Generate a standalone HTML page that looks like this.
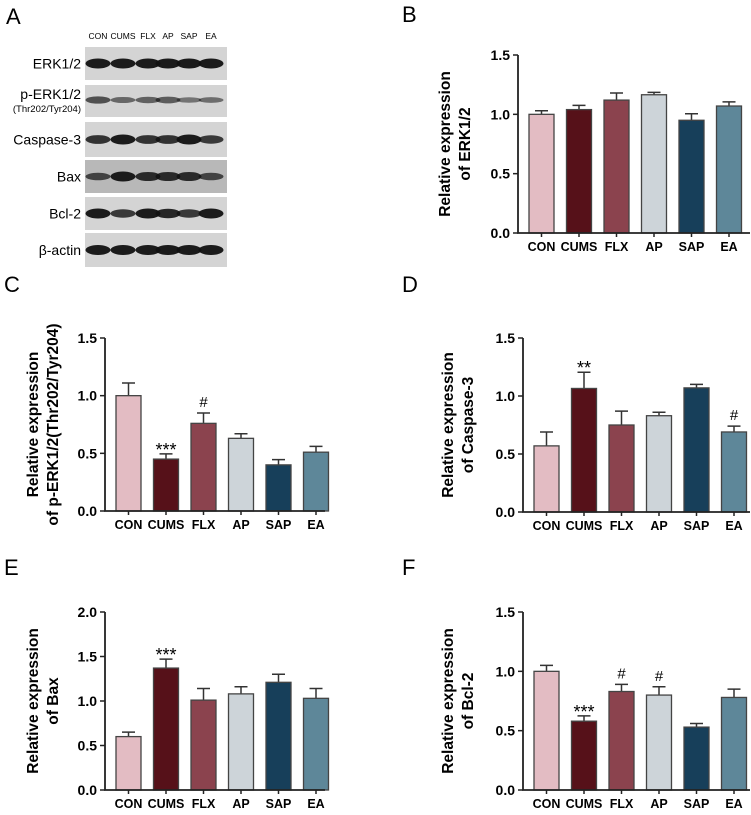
<!DOCTYPE html>
<html><head><meta charset="utf-8"><style>
body{margin:0;background:#fff;}
svg{display:block;font-family:"Liberation Sans",Arial,sans-serif;}
</style></head><body>
<svg id="fig" width="751" height="815" viewBox="0 0 751 815">
<g id="blot"></g>
<g id="charts"></g>
</svg>
<script>
const categories=["CON","CUMS","FLX","AP","SAP","EA"];
const colors=["#e3bcc3","#561119","#8b434e","#cdd4d9","#173f5a","#5e8799"];
const erkMean=[1.00,1.04,1.12,1.165,0.95,1.07];
const erkErr=[0.03,0.035,0.06,0.02,0.055,0.035];
const perkMean=[1.00,0.45,0.76,0.63,0.40,0.51];
const perkErr=[0.11,0.045,0.09,0.04,0.045,0.05];
const casMean=[0.57,1.065,0.75,0.83,1.07,0.69];
const casErr=[0.12,0.14,0.12,0.03,0.03,0.05];
const baxMean=[0.60,1.37,1.01,1.08,1.21,1.03];
const baxErr=[0.05,0.10,0.13,0.08,0.09,0.11];
const bclMean=[1.00,0.58,0.83,0.80,0.53,0.78];
const bclErr=[0.05,0.045,0.06,0.07,0.03,0.07];
const erkMarks=["","","","","",""];
const perkMarks=["","***","#","","",""];
const casMarks=["","**","","","","#"];
const baxMarks=["","***","","","",""];
const bclMarks=["","***","#","#","",""];
const ticks15=[0,0.5,1.0,1.5];
const ticks20=[0,0.5,1.0,1.5,2.0];
const bandStrength=[[1,1,1,1,1,1],[0.55,0.35,0.4,0.45,0.25,0.3],[0.8,1,0.8,0.8,1,0.75],[0.6,1,0.85,0.85,0.85,0.6],[1,0.75,1,0.9,0.75,1],[1,1,1,1,1,1]];
const blotLabels=["ERK1/2","p-ERK1/2","Caspase-3","Bax","Bcl-2","β-actin"];

const NS="http://www.w3.org/2000/svg";
function mk(tag,attrs,parent,text){const e=document.createElementNS(NS,tag);for(const k in attrs)e.setAttribute(k,attrs[k]);if(text!==undefined)e.textContent=text;parent.appendChild(e);return e;}

const blot=document.getElementById('blot');
const la=mk('text',{x:6,y:24,'font-size':22},blot,'A');


const laneX=[98,123,148,168,189,211];
categories.forEach((c,i)=>{const t=mk('text',{x:laneX[i],y:39,'font-size':8.5,'text-anchor':'middle'},blot,c);

});
const rowsY=[[47,80],[85,117],[122,157],[160,193],[197,230],[233,267]];
rowsY.forEach((r,ri)=>{
 const bg=mk('rect',{x:85,y:r[0],width:142,height:r[1]-r[0],fill:ri==3?'#b8b8b8':'#d4d4d4'},blot);
 
 
 const cy=ri==1?(r[0]+r[1])/2-1:(r[0]+r[1])/2;
 laneX.forEach((lx,i)=>{const s=bandStrength[ri][i];
  const b=mk('ellipse',{cx:lx,cy:cy,rx:12.5,ry:2+3*s,fill:'#111','fill-opacity':0.35+0.6*s},blot);
  
  });
 const lab=mk('text',{x:81,y:ri==1?cy-1:cy+5,'font-size':14,'text-anchor':'end'},blot,blotLabels[ri]);
 
 
 if(ri==1){const s=mk('text',{x:81,y:cy+12,'font-size':9.5,'text-anchor':'end'},blot,'(Thr202/Tyr204)');
  
  }
});

function chart(id,letter,lx,ly,ax,y0,ytop,ymax,xend,ticks,means,errs,marks,titleLines,titleX){
 const g=mk('g',{},document.getElementById('charts'));
 
 
 const L=mk('text',{x:lx,y:ly,'font-size':22},g,letter);
 
 
 const ys=v=>y0-(v/ymax)*(y0-ytop);
 const xs=i=>ax+11+i*37.5;
 categories.forEach((c,i)=>{
  const x=xs(i),top=ys(means[i]),e=ys(means[i]+errs[i]);
  const eb=mk('path',{d:`M${x+12.5},${top}V${e}M${x+6},${e}H${x+19}`,stroke:'#333','stroke-width':1.5,fill:'none'},g);
  
  
  const r=mk('rect',{x:x,y:top,width:25,height:y0-top,fill:colors[i],stroke:'#444','stroke-width':1.3},g);
  
  
  if(marks[i]){const m=mk('text',{x:x+12.5,y:e-(marks[i]=='#'?6:4)+(marks[i][0]=='*'?6:0),'font-size':marks[i]=='#'?15:18,'text-anchor':'middle'},g,marks[i]);
   
   }
  const tk=mk('line',{x1:x+12.5,x2:x+12.5,y1:y0,y2:y0+4,stroke:'#222','stroke-width':1.5},g);
  
  
  const tl=mk('text',{x:x+12.5,y:y0+18,'font-size':12.5,'font-weight':'bold','text-anchor':'middle'},g,c);
  
  
 });
 const axes=mk('path',{d:`M${ax},${ytop}V${y0}H${xend}`,stroke:'#222','stroke-width':1.8,fill:'none'},g);
 
 
 ticks.forEach(t=>{const y=ys(t);
  const tk=mk('line',{x1:ax-5,x2:ax,y1:y,y2:y,stroke:'#222','stroke-width':1.5},g);
  
  
  const tl=mk('text',{x:ax-8,y:y+5,'font-size':14,'font-weight':'bold','text-anchor':'end'},g,t.toFixed(1));
  
  });
 const cy=(y0+ytop)/2;
 const tt=mk('text',{transform:`translate(${titleX},${cy}) rotate(-90)`,'font-size':15.5,'font-weight':'bold','text-anchor':'middle'},g);
 
 
 titleLines.forEach((l,i)=>{mk('tspan',{x:0,dy:i==0?0:20},tt,l);});
}
chart('erk','B',402,22,518,233,55,1.5,750,ticks15,erkMean,erkErr,erkMarks,['Relative expression','of ERK1/2'],450);
chart('perk','C',4,292,105,511,338,1.5,325,ticks15,perkMean,perkErr,perkMarks,['Relative expression','of p-ERK1/2(Thr202/Tyr204)'],38);
chart('caspase','D',402,292,523,512,338,1.5,750,ticks15,casMean,casErr,casMarks,['Relative expression','of Caspase-3'],453);
chart('bax','E',4,575,105,790,612,2.0,325,ticks20,baxMean,baxErr,baxMarks,['Relative expression','of Bax'],38);
chart('bcl','F',402,575,523,790,612,1.5,750,ticks15,bclMean,bclErr,bclMarks,['Relative expression','of Bcl-2'],453);
</script>
</body></html>
